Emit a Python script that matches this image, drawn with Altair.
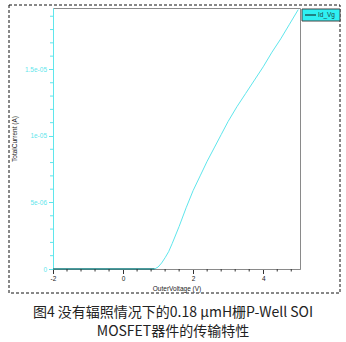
import altair as alt
import pandas as pd

# ---- data ----
vg = [-2, -1.5, -1, -0.5, 0, 0.5, 0.9, 1.0, 1.1, 1.2, 1.3, 1.4, 1.6, 1.8, 2.0, 2.2,
      2.4, 2.6, 2.8, 3.0, 3.25, 3.5, 3.75, 4.0, 4.25, 4.5, 4.75, 5.0]
id_a = [0, 0, 0, 0, 0, 0, 0, 1.5e-7, 4.5e-7, 8.5e-7, 1.3e-6, 1.9e-6, 3.2e-6, 4.6e-6,
        5.9e-6, 7.0e-6, 8.1e-6, 9.1e-6, 1.01e-5, 1.11e-5, 1.22e-5, 1.32e-5, 1.42e-5,
        1.52e-5, 1.63e-5, 1.73e-5, 1.84e-5, 1.95e-5]
series_name = ["Id_Vg"]
x_major_ticks = [-2, 0, 2, 4]
x_minor_ticks = [-1.6, -1.2, -0.8, -0.4, 0.4, 0.8, 1.2, 1.6, 2.4, 2.8, 3.2, 3.6, 4.4, 4.8]
y_major_ticks = [0, 5e-6, 1e-5, 1.5e-5]
y_labels = ["0", "5e-06", "1e-05", "1.5e-05"]
y_minor_ticks = [1e-6, 2e-6, 3e-6, 4e-6, 6e-6, 7e-6, 8e-6, 9e-6, 1.1e-5, 1.2e-5,
                 1.3e-5, 1.4e-5, 1.6e-5, 1.7e-5, 1.8e-5, 1.9e-5]
x_title = "OuterVoltage (V)"
y_title = "TotalCurrent (A)"
caption_line1 = ["图4 没有辐照情况下的0.18 μmH栅P-Well SOI"]
caption_line2 = ["MOSFET器件的传输特性"]

df = pd.DataFrame({"vg": vg, "id": id_a})
zero_df = df[df["id"] == 0]

W, H = 247, 261
CYAN = "#5fe6ec"
FONT = "Liberation Sans"

y_label_expr = f"{y_labels!r}[round(datum.value / 5e-6)]"

x_scale = alt.Scale(domain=[-2, 5.05], nice=False, zero=False)
y_scale = alt.Scale(domain=[0, 1.962e-5], nice=False)

x_axis = alt.Axis(
    title=x_title, values=x_major_ticks, grid=False, labelFlush=False,
    labelExpr="'' + datum.value",
    domainColor="#8a8a8a", tickColor="#333", labelColor="#222",
    labelFont=FONT, labelFontSize=6.5, labelPadding=2, tickSize=4.5,
    titleFont=FONT, titleFontSize=6.5, titleFontWeight="normal", titleColor="#222",
    titleY=19, titleBaseline="middle",
)
y_axis = alt.Axis(
    title=y_title, values=y_major_ticks, grid=False, labelFlush=False,
    labelExpr=y_label_expr,
    domainColor=CYAN, tickColor=CYAN, labelColor=CYAN,
    labelFont=FONT, labelFontSize=6.5, labelPadding=2, tickSize=4.5,
    titleFont=FONT, titleFontSize=6.5, titleFontWeight="normal", titleColor="#222",
    titleX=-39, titleY=H / 2, titleAngle=270, titleAlign="center", titleBaseline="middle",
)

line = alt.Chart(df).mark_line(color=CYAN, strokeWidth=1, clip=True).encode(
    x=alt.X("vg:Q", scale=x_scale, axis=x_axis),
    y=alt.Y("id:Q", scale=y_scale, axis=y_axis),
)
zero_line = alt.Chart(zero_df).mark_line(color="#2a7f80", strokeWidth=1.5).encode(
    x=alt.X("vg:Q", scale=x_scale),
    y=alt.Y("id:Q", scale=y_scale),
)

x_minor = alt.Chart(pd.DataFrame({"v": x_minor_ticks})).mark_rule(
    color="#333", strokeWidth=1
).encode(x=alt.X("v:Q", scale=x_scale), y=alt.value(H), y2=alt.value(H + 2.5))
y_minor = alt.Chart(pd.DataFrame({"v": y_minor_ticks})).mark_rule(
    color=CYAN, strokeWidth=1
).encode(y=alt.Y("v:Q", scale=y_scale), x=alt.value(0), x2=alt.value(-3))

one = pd.DataFrame({"a": [0]})
frame = alt.Chart(one).mark_rect(
    fill=None, filled=False, stroke="#111", strokeWidth=1, strokeDash=[3, 2]
).encode(x=alt.value(-44), x2=alt.value(287), y=alt.value(-3), y2=alt.value(285))

leg_box = alt.Chart(one).mark_rect(fill="#2ff0f2", stroke="#444", strokeWidth=1).encode(
    x=alt.value(249), x2=alt.value(287), y=alt.value(1), y2=alt.value(13)
)
leg_line = alt.Chart(one).mark_rule(color="#1d5f60", strokeWidth=1.5).encode(
    x=alt.value(252), x2=alt.value(263), y=alt.value(7)
)
leg_text = alt.Chart(pd.DataFrame({"t": series_name})).mark_text(
    align="left", baseline="middle", font=FONT, fontSize=6.5, color="#244"
).encode(x=alt.value(265), y=alt.value(7), text="t:N")

cap_style = dict(align="center", baseline="middle", font="Noto Sans CJK SC",
                 fontSize=14, color="#222")
cap1 = alt.Chart(pd.DataFrame({"t": caption_line1})).mark_text(**cap_style).encode(
    x=alt.value(120), y=alt.value(305), text="t:N"
)
cap2 = alt.Chart(pd.DataFrame({"t": caption_line2})).mark_text(**cap_style).encode(
    x=alt.value(120), y=alt.value(324), text="t:N"
)

chart = alt.layer(
    frame, line, zero_line, x_minor, y_minor, leg_box, leg_line, leg_text, cap1, cap2
).properties(
    width=W, height=H,
    autosize=alt.AutoSizeParams(type="none"),
    padding={"left": 53, "top": 8, "right": 46, "bottom": 73},
    background="white",
).configure_view(stroke="#8a8a8a", strokeWidth=1)

chart.save("out.html", embed_options={"renderer": "svg", "actions": False})
